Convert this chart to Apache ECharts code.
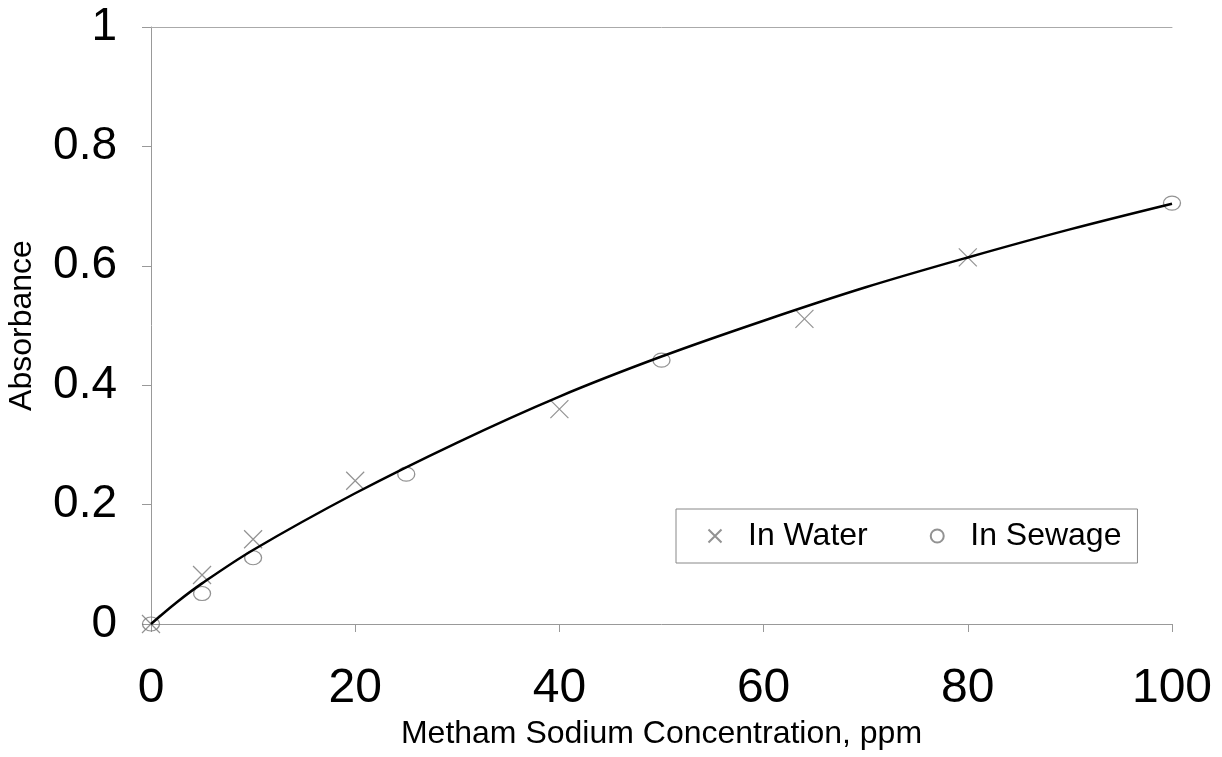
<!DOCTYPE html>
<html>
<head>
<meta charset="utf-8">
<script src="https://cdn.jsdelivr.net/npm/echarts@6/dist/echarts.min.js"></script>
<style>html,body{margin:0;padding:0;background:#fff;}#c{width:1222px;height:757px;}</style>
</head>
<body>
<div id="c"></div>
<script>
const waterX = [0, 5, 10, 20, 40, 64, 80];
const waterY = [0, 0.082, 0.142, 0.240, 0.360, 0.511, 0.614];
const sewageX = [0, 5, 10, 25, 50, 100];
const sewageY = [0, 0.051, 0.111, 0.251, 0.442, 0.705];
const curveX = [0, 2.5, 5, 10, 20, 30, 40, 50, 60, 70, 80, 90, 100];
const curveY = [0, 0.036, 0.068, 0.124, 0.219, 0.304, 0.381, 0.448, 0.508, 0.564, 0.614, 0.661, 0.704];
const xTicks = [0, 20, 40, 60, 80, 100];
const yTicks = [0, 0.2, 0.4, 0.6, 0.8, 1];

const zip = (a, b) => a.map((v, i) => [v, b[i]]);
const FONT = '"Liberation Sans", Arial, sans-serif';
const crossPath = 'path://M0,0L10,10M10,0L0,10';

const chart = echarts.init(document.getElementById('c'));
chart.setOption({
  animation: false,
  backgroundColor: '#fff',
  textStyle: { fontFamily: FONT, color: '#000' },
  grid: { left: 151, right: 50, top: 27, bottom: 133, outerBoundsMode: 'none', containLabel: false },
  legend: {
    data: ['In Water', 'In Sewage'],
    left: 676, top: 509,
    orient: 'horizontal',
    backgroundColor: '#fff',
    borderColor: '#888', borderWidth: 1, borderRadius: 0,
    padding: [11, 16, 11, 30],
    itemWidth: 18, itemHeight: 13, itemGap: 62,
    textStyle: { fontFamily: FONT, fontSize: 32, color: '#000', padding: [0, 0, 0, 19] }
  },
  xAxis: [{
    type: 'value', min: 0, max: 100, interval: 20,
    name: 'Metham Sodium Concentration, ppm',
    nameLocation: 'middle', nameGap: 82,
    nameTextStyle: { fontFamily: FONT, fontSize: 32, color: '#000' },
    axisLine: { show: true, lineStyle: { color: '#999', width: 1 } },
    axisTick: { show: true, length: 8, lineStyle: { color: '#999' } },
    axisLabel: { fontFamily: FONT, fontSize: 48, color: '#000', margin: 41,
      formatter: v => xTicks.includes(v) ? String(v) : '' },
    splitLine: { show: false }
  }, {
    type: 'value', min: 0, max: 100, position: 'top',
    axisLine: { show: true, lineStyle: { color: '#aaa', width: 1 } },
    axisTick: { show: false }, axisLabel: { show: false }, splitLine: { show: false }
  }],
  yAxis: {
    type: 'value', min: 0, max: 1, interval: 0.2,
    name: 'Absorbance',
    nameLocation: 'middle', nameGap: 113,
    nameTextStyle: { fontFamily: FONT, fontSize: 32, color: '#000' },
    axisLine: { show: true, lineStyle: { color: '#999', width: 1 } },
    axisTick: { show: true, length: 9, lineStyle: { color: '#999' } },
    axisLabel: { fontFamily: FONT, fontSize: 46, color: '#000', margin: 34,
      formatter: v => { const t = yTicks.find(y => Math.abs(y - v) < 1e-9); return t === undefined ? '' : String(t); } },
    splitLine: { show: false }
  },
  series: [
    {
      name: 'In Water', type: 'scatter', data: zip(waterX, waterY),
      symbol: crossPath, symbolSize: 18,
      itemStyle: { color: 'none', borderColor: '#777', borderWidth: 1.2 }
    },
    {
      name: 'In Sewage', type: 'scatter', data: zip(sewageX, sewageY),
      symbol: 'circle', symbolSize: [17, 14],
      itemStyle: { color: 'rgba(255,255,255,0)', borderColor: '#777', borderWidth: 1.2 }
    },
    {
      name: 'fit', type: 'line', data: zip(curveX, curveY),
      smooth: 0.35, symbol: 'none',
      lineStyle: { color: '#000', width: 2.5 }, z: 5
    }
  ]
});
</script>
</body>
</html>
